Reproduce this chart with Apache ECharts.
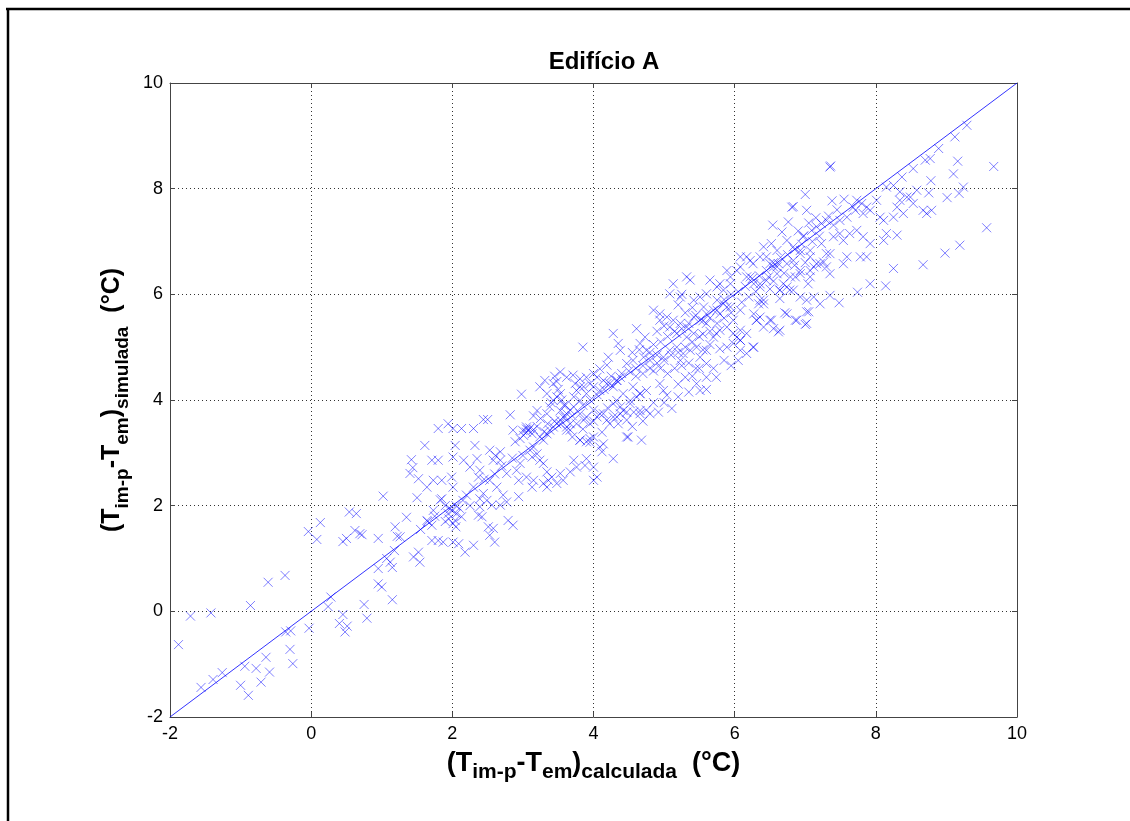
<!DOCTYPE html>
<html>
<head>
<meta charset="utf-8">
<script src="https://cdn.jsdelivr.net/npm/echarts@6/dist/echarts.min.js"></script>
<style>
html,body{margin:0;padding:0;background:#fff;}
#chart{width:1130px;height:821px;}
</style>
</head>
<body>
<div id="chart"></div>
<script>
// ---- data (x = calculada, y = simulada), in °C ----
const titulo = 'Edifício A';
const ticksX = [-2, 0, 2, 4, 6, 8, 10];
const ticksY = [-2, 0, 2, 4, 6, 8, 10];
const linhaX = [-2, 10];
const linhaY = [-2, 10];

const pontosBaixos = [
[-1.88,-0.63],[-1.71,-0.09],[-1.42,-0.03],[-0.86,0.11],[-0.61,0.55],[-0.37,0.68],[-0.03,-0.32],[-0.36,-0.39],[-0.29,-0.37],[-0.30,-0.72],[-0.26,-0.99],[-0.64,-0.87],[-0.59,-1.15],[-0.71,-1.34],[-0.78,-1.08],[-0.94,-1.04],[-1.0,-1.40],[-0.89,-1.59],[-1.26,-1.16],[-1.39,-1.29],[-1.56,-1.44],[0.28,0.27],[0.24,0.09],[0.45,-0.06],[0.40,-0.23],[0.51,-0.28],[0.48,-0.39],[0.75,0.13],[0.79,-0.13],[1.15,0.22],[-0.04,1.51],[0.08,1.36],[0.13,1.68],[0.45,1.32],[0.50,1.38],[0.54,1.88],[0.64,1.85],[0.62,1.53],[0.69,1.47],[0.72,1.45],[0.95,1.38],[1.02,2.18],[0.95,0.81],[0.95,0.52],[1.0,0.46],[1.07,1.0],[1.12,0.93],[1.15,0.83],[1.19,1.6],[1.22,1.42],[1.26,1.41],[1.18,1.15],[1.35,1.78],[1.45,1.03],[1.52,1.12],[1.54,0.93]
];

const pontosMedios = [
[1.42,2.87],[1.44,2.72],[1.40,2.61],[1.61,3.14],[1.52,2.51],[1.50,2.15],[1.71,2.86],[1.80,2.86],[1.80,3.46],[1.94,3.55],[2.01,3.46],[2.13,3.46],[2.30,3.46],[2.44,3.63],[2.50,3.63],[2.82,3.72],[2.98,4.11],[2.04,3.14],[2.01,2.92],[2.16,2.86],[2.32,3.14],[2.35,2.89],[1.73,2.48],[1.85,2.48],[1.64,2.35],[1.99,2.54],[2.01,2.35],[1.83,2.11],[1.85,2.13],[1.97,1.94],[2.06,1.85],[2.13,1.79],[2.04,1.72],[1.94,1.85],[2.01,1.66],[1.73,1.91],[1.64,1.72],[1.71,1.63],[1.80,1.34],[1.87,1.31],[1.71,1.34],[2.01,1.31],[2.09,1.28],[2.18,1.12],[2.30,1.25],[2.51,1.60],[2.58,1.57],[2.53,1.44],[2.60,1.31],[2.42,1.79],[2.39,1.98],[2.79,1.72],[2.86,1.63],[2.25,2.73],[2.39,2.67],[2.53,3.05],[2.61,2.95],[2.68,3.02],[2.58,2.86],[2.68,2.86],[2.37,2.54],[2.53,2.48],[2.63,2.35],[2.44,2.23],[2.39,2.13],[2.49,2.10],[2.56,2.01],[2.68,2.01],[2.77,2.07],[2.72,2.20],[2.37,1.82],[2.94,2.17],[2.94,2.48],[2.91,2.67],[2.96,2.80],[2.77,2.61],[2.89,3.21],[2.96,3.27],[3.01,3.33],[3.05,3.39],[3.08,3.43],[3.13,3.36],[3.05,3.49],[2.86,3.43],[3.15,3.11],[3.20,2.98],[3.13,2.92],[3.24,2.86],[3.05,2.54],[3.13,2.35],[3.15,2.48],[3.29,2.80],[3.34,2.64],[3.41,2.54],[3.36,2.48],[3.53,2.61],[3.57,2.48],[3.48,2.42],[3.29,2.42],[3.34,2.35],[3.72,2.86],[3.76,2.73],[3.67,2.64],[3.88,2.76],[3.90,2.89],[4.0,2.73],[4.05,2.54],[4.0,2.48],[3.81,3.24],[3.90,3.21],[3.95,3.27],[4.09,3.11],[4.12,3.02],[4.14,3.17],[4.28,2.89],[4.49,3.30],[4.68,3.24],[3.24,3.30],[3.29,3.24],[3.34,3.36],[3.38,3.43],[3.43,3.49],[3.48,3.55],[3.53,3.62],[3.57,3.68],[3.62,3.74],[3.67,3.81],[3.72,3.87],[3.62,3.49],[3.67,3.43],[3.34,3.74],[3.38,3.87],[3.43,3.99],[3.48,4.06],[3.53,4.12],[3.34,4.12],[3.24,4.25],[3.31,4.37],[3.43,4.31],[3.76,4.18],[3.86,4.25],[3.90,4.12],[4.0,4.25],[4.09,4.18],[4.19,4.31],[4.28,4.25],[4.33,4.37],[3.81,3.74],[3.90,3.68],[4.0,3.81],[4.09,3.74],[4.19,3.62],[4.28,3.68],[4.38,3.74],[4.47,3.62],[4.57,3.77],[4.66,3.74],[4.75,3.81],[4.33,3.99],[4.42,4.12],[4.52,3.99],[4.66,4.12],[3.81,3.99],[3.72,4.06],
[1.55,1.55],[1.65,1.70],[1.75,1.80],[1.90,2.00],[2.20,2.20],[2.30,2.35],[2.45,2.50],[2.60,2.60],[2.70,2.75],[2.85,2.90],[3.00,2.95],[3.10,3.05]
];

const pontosCentrais = [
[3.85,5.00],[4.28,5.26],[4.61,5.35],[4.73,5.19],[4.66,5.07],[4.75,4.94],[4.35,5.07],[4.38,4.94],[4.21,4.81],[4.19,4.66],[4.09,4.59],[4.0,4.50],[3.90,4.43],[3.81,4.40],[3.71,4.47],[3.62,4.43],[3.53,4.53],[3.74,4.31],[3.81,4.25],[3.95,4.31],[4.05,4.43],[4.14,4.37],[4.23,4.31],[4.33,4.37],[4.38,4.43],[3.53,3.80],[3.60,3.68],[3.67,3.55],[3.62,3.43],[3.53,3.55],[3.76,3.55],[3.86,3.62],[3.95,3.55],[4.05,3.68],[4.14,3.74],[3.81,3.24],[3.95,3.20],[4.0,3.30],[4.12,3.39],[4.23,3.55],[4.33,3.68],[4.42,3.80],[4.52,3.93],[4.61,4.06],[4.47,3.30],[4.28,3.93],[4.38,3.87],[4.47,3.77],[4.66,3.80],[4.80,3.74],[4.92,3.77],[4.56,4.25],[4.66,4.12],[4.75,4.18],[4.94,4.31],[4.99,4.18],[5.04,4.09],[5.20,4.06],[5.11,3.84],[4.47,4.69],[4.56,4.75],[4.71,4.81],[4.80,4.75],[4.90,4.85],[4.99,4.81],[5.08,4.94],[5.18,5.0],[5.23,4.75],[5.27,4.88],[5.37,4.94],[5.46,5.0],[5.51,4.81],[5.60,4.69],[5.30,4.43],[5.46,4.31],[5.51,4.18],[5.60,4.43],[5.74,4.43],[5.79,4.97],[5.89,5.0],[5.98,5.07],[6.08,4.94],[6.17,4.88],[6.27,5.0],[5.60,4.94],[5.70,5.19],[5.74,5.26],[5.79,5.32],[5.89,5.38],[5.98,5.51],[6.03,5.19],[6.08,5.32],[4.85,5.70],[4.94,5.63],[5.04,5.57],[5.13,5.51],[5.23,5.45],[5.32,5.38],[5.42,5.26],[5.13,6.20],[5.32,6.33],[5.37,6.27],[5.65,6.27],[5.79,6.20],[5.94,6.20],[5.08,6.01],[5.23,5.95],[5.42,5.89],[5.51,5.95],[5.60,6.01],[5.75,5.89],[5.84,5.82],[5.94,5.76],[4.94,5.51],[5.08,5.38],[5.18,5.26],[5.32,5.19],[5.42,5.57],[5.51,5.51],[5.60,5.45],[5.70,5.70],[5.79,5.63],[5.89,5.76],
[3.30,3.40],[3.45,3.60],[3.60,3.90],[3.70,3.70],[3.85,3.90],[3.95,4.00],[4.05,4.10],[4.15,4.20],[4.25,4.45],[4.40,4.50],[4.50,4.55],[4.60,4.60],[4.70,4.65],[4.80,4.90],[4.85,5.05],[4.95,5.10],[5.05,5.20],[5.15,5.30],[5.25,5.35],[5.35,5.45],[5.45,5.60],[5.55,5.50],[5.65,5.55],[5.75,5.70],[5.85,5.90],[5.95,6.00],
[4.85,4.55],[4.95,4.60],[5.05,4.50],[5.15,4.60],[5.25,4.65],[5.35,4.70],[5.45,4.60],[5.55,4.95],[5.65,5.05],[5.20,4.30],[5.35,4.15],[5.60,4.20],[5.70,4.60],[5.85,4.75],[5.95,4.65],[6.05,4.75]
];

const pontosDensos = [
[3.00,3.42],[3.05,3.45],[3.10,3.47],[3.15,3.44],[3.20,3.50],[3.45,4.45],[3.48,4.35],[3.50,4.20],[3.55,4.00],[3.58,3.90],[3.40,3.95],[3.35,3.55],[3.25,3.65],[3.20,3.80],[3.15,3.70],
[1.95,1.75],[2.00,1.90],[2.05,2.00],[2.10,1.95],[1.90,1.70],[2.05,1.60],[2.15,2.10],[2.25,2.00],
[4.60,4.45],[4.70,4.50],[4.80,4.60],[4.90,4.70],[5.00,4.75],[5.10,4.85],[5.20,4.90],[5.30,5.00],[5.40,5.10],[5.50,5.20],[4.55,4.90],[4.65,4.95],[4.90,5.30],[5.00,5.40],[5.30,5.65],[5.40,5.75],[5.20,5.80],[5.25,6.00],
[5.55,5.25],[5.65,5.30],[5.75,5.45],[5.85,5.55],[5.95,5.65],[6.10,5.85],[6.20,5.95],[6.30,6.05],[6.50,6.10],[6.55,6.25],[6.70,6.40],[6.85,6.55],[7.00,6.60],[6.90,7.20],[7.05,7.35],[7.15,7.45],[7.45,7.60],[7.55,7.80],
[3.70,3.30],[3.85,3.45],[4.00,3.60],[4.20,3.85],[4.35,3.55],[4.55,3.50],[4.70,3.60],[4.85,3.95],[5.00,3.95],[5.40,4.45],[5.50,4.60]
];

const pontosAltos = [
[6.08,6.71],[6.22,6.64],[6.36,6.71],[6.50,6.58],[6.60,6.52],[6.74,6.58],[6.83,6.64],[6.93,6.77],[7.07,6.71],[6.03,6.45],[6.17,6.33],[6.27,6.20],[6.36,6.14],[6.45,6.26],[6.60,6.39],[6.79,6.33],[6.93,6.39],[7.07,6.45],[6.64,6.08],[6.74,6.14],[6.83,6.08],[6.93,5.95],[6.64,5.92],[6.36,5.89],[6.41,5.82],[6.27,5.63],[6.31,5.51],[6.36,5.57],[6.50,5.51],[6.64,5.32],[6.55,5.35],[6.74,5.63],[6.88,5.51],[7.02,5.45],[7.05,5.67],[5.98,5.26],[6.08,5.13],[6.17,5.26],[5.89,6.45],[5.94,6.33],[5.84,6.08],[5.75,6.14],[5.60,5.63],[5.56,5.76],
[6.05,6.05],[6.15,6.15],[6.25,6.30],[6.35,6.35],[6.45,6.45],[6.55,6.60],[6.65,6.70],[6.75,6.75],[6.85,6.85],[6.95,6.95],[7.10,7.00],[7.20,7.10]
];

const pontosTopo = [
[7.35,8.41],[7.36,8.43],[7.00,7.89],[7.38,7.77],[6.81,7.65],[6.83,7.66],[7.02,7.59],[7.33,7.48],[6.54,7.31],[6.76,7.37],[6.67,7.18],[6.97,7.09],[6.98,7.11],[7.09,7.21],[7.16,7.28],[7.23,7.34],[7.30,7.40],[7.40,7.31],[7.49,7.40],[7.59,7.46],[7.68,7.65],[7.73,7.78],[7.80,7.72],[7.87,7.65],[7.71,7.59],[7.82,7.53],[7.92,7.59],[8.01,7.78],[7.63,7.15],[7.73,7.21],[7.82,7.09],[7.92,6.96],[7.87,6.71],[7.78,6.71],[7.59,6.71],[7.54,6.58],[7.35,6.39],[7.21,6.58],[7.30,6.77],[7.40,7.09],[7.49,7.15],[7.54,7.02],[8.06,7.46],[8.11,7.40],[8.15,7.15],[8.25,7.46],[8.30,7.65],[8.39,7.53],[8.34,7.78],[8.49,7.84],[8.53,7.72],[8.58,7.97],[8.67,7.59],[8.72,7.53],[8.79,7.59],[8.11,7.02],[8.30,7.12],[8.15,8.03],[8.25,8.06],[8.34,7.94],[8.44,7.84],[8.37,8.22],[8.53,8.38],[8.70,8.54],[8.77,8.57],[8.89,8.76],[9.12,8.98],[9.29,9.20],[8.78,8.15],[8.75,7.92],[9.16,8.52],[9.10,8.28],[9.24,8.03],[9.18,7.91],[9.01,7.83],[9.67,8.42],[9.57,7.26],[9.19,6.93],[8.98,6.78],[8.67,6.56],[8.25,6.49],[7.92,6.20],[8.14,6.16],[7.74,6.04],[7.48,5.84],[7.35,5.98],[7.02,5.67],[7.00,5.43],[6.86,5.51],[6.71,5.65],[6.62,5.29],[6.52,5.51],[6.41,5.38],[6.31,5.51],[6.26,5.00],[6.08,5.13],[6.41,5.89],[6.34,5.82],[6.08,5.70],[6.64,6.08],[6.78,6.08],[6.86,6.33],[6.93,6.45],[7.04,6.20],[6.55,6.52],[6.62,6.58],[6.48,6.33],[6.36,6.20],[6.22,6.33],[6.26,6.58],[6.17,6.71],[6.08,6.52],[6.41,6.90],[6.52,6.96],[6.45,6.71],[6.60,6.83],[6.74,7.02],[6.83,6.90],[6.93,6.83],[7.07,6.83],[7.16,6.58],[7.23,6.96],[7.30,6.52],[7.35,6.77],[7.07,6.33],[7.12,6.52],[7.26,6.61],[6.69,6.20],[7.12,5.95],[7.21,5.82],[7.02,5.89]
];

const todosPontos = [].concat(pontosBaixos, pontosMedios, pontosCentrais, pontosDensos, pontosAltos, pontosTopo);

// ---- chart ----
const FONT = '"Liberation Sans", Arial, Helvetica, sans-serif';
const richX = {
  m: { fontSize: 27, fontWeight: 'bold', fontFamily: FONT, color: '#000' },
  s: { fontSize: 21, fontWeight: 'bold', fontFamily: FONT, color: '#000', padding: [17, 0, 0, 0] }
};
const richY = {
  m: { fontSize: 25, fontWeight: 'bold', fontFamily: FONT, color: '#000' },
  s: { fontSize: 19, fontWeight: 'bold', fontFamily: FONT, color: '#000', padding: [20, 0, 0, 0] }
};
const axisNameX = '{m|(T}{s|im-p}{m|-T}{s|em}{m|)}{s|calculada}{m|  (°C)}';
const axisNameY = '{m|(T}{s|im-p}{m|-T}{s|em}{m|)}{s|simulada}{m|  (°C)}';

const gridLine = { show: true, lineStyle: { color: '#333', type: [1, 3], width: 1 } };
const axLine = { show: true, onZero: false, lineStyle: { color: '#444', width: 1 } };
const tickIn = { show: true, inside: true, length: 5, lineStyle: { color: '#444' } };
const lbl = { fontSize: 18, color: '#000', fontFamily: FONT };

const chart = echarts.init(document.getElementById('chart'), null, { renderer: 'canvas' });
chart.setOption({
  animation: false,
  backgroundColor: '#fff',
  title: {
    text: titulo,
    left: 599,
    top: 45,
    textAlign: 'center',
    textStyle: { fontSize: 24, fontWeight: 'bold', fontFamily: FONT, color: '#000' }
  },
  graphic: [
    { type: 'line', shape: { x1: 6, y1: 9, x2: 1130, y2: 9 }, style: { stroke: '#000', lineWidth: 2.5 } },
    { type: 'line', shape: { x1: 8, y1: 8, x2: 8, y2: 821 }, style: { stroke: '#000', lineWidth: 2.5 } }
  ],
  grid: { left: 170, right: 113, top: 83, bottom: 104, containLabel: false },
  xAxis: [
    {
      type: 'value', min: ticksX[0], max: ticksX[ticksX.length - 1], interval: 2, position: 'bottom',
      axisLine: axLine, axisTick: tickIn, splitLine: gridLine,
      axisLabel: Object.assign({ margin: 8 }, lbl),
      name: axisNameX, nameLocation: 'middle', nameGap: 28,
      nameTextStyle: { rich: richX }
    },
    {
      type: 'value', min: ticksX[0], max: ticksX[ticksX.length - 1], interval: 2, position: 'top',
      axisLine: axLine, axisTick: tickIn, splitLine: { show: false }, axisLabel: { show: false }
    }
  ],
  yAxis: [
    {
      type: 'value', min: ticksY[0], max: ticksY[ticksY.length - 1], interval: 2, position: 'left',
      axisLine: axLine, axisTick: tickIn, splitLine: gridLine,
      axisLabel: Object.assign({ margin: 7 }, lbl),
      name: axisNameY, nameLocation: 'middle', nameGap: 32, nameRotate: 90,
      nameTextStyle: { rich: richY }
    },
    {
      type: 'value', min: ticksY[0], max: ticksY[ticksY.length - 1], interval: 2, position: 'right',
      axisLine: axLine, axisTick: tickIn, splitLine: { show: false }, axisLabel: { show: false }
    }
  ],
  series: [
    {
      type: 'scatter',
      data: todosPontos,
      symbol: 'path://M0,0L10,10M10,0L0,10',
      symbolSize: 9,
      itemStyle: { color: '#0000ff', borderColor: '#0000ff', borderWidth: 1, opacity: 0.5 },
      emphasis: { disabled: true },
      z: 2
    },
    {
      type: 'line',
      data: linhaX.map((v, i) => [v, linhaY[i]]),
      symbol: 'none',
      lineStyle: { color: '#0000ff', width: 1, opacity: 0.8 },
      z: 3
    }
  ]
});
</script>
</body>
</html>
